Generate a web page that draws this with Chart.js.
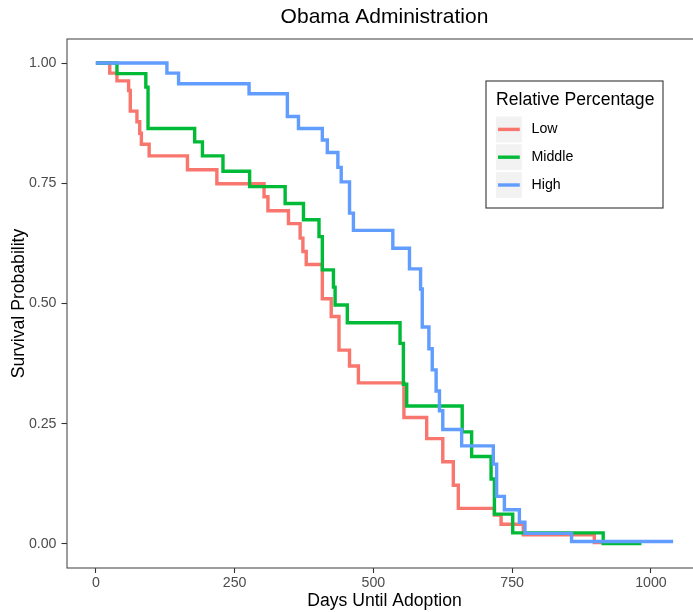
<!DOCTYPE html>
<html>
<head>
<meta charset="utf-8">
<title>Obama Administration</title>
<script src="https://cdn.jsdelivr.net/npm/chart.js@4/dist/chart.umd.min.js"></script>
<style>
  html, body { margin: 0; padding: 0; background: #ffffff; overflow: hidden; }
  #wrap { width: 693px; height: 612px; overflow: hidden; position: relative; }
  canvas { display: block; }
</style>
</head>
<body>
<div id="wrap"><canvas id="km" width="710" height="612"></canvas></div>
<script>
// Kaplan-Meier survival estimates by relative percentage group
const groupNames = ['Low', 'Middle', 'High'];
const groupColors = ['#F8766D', '#00BA38', '#619CFF'];

const lowDays = [0, 25, 38, 59, 62, 74, 79, 82, 96, 165, 218, 303, 310, 347, 368, 373, 379, 408, 424, 438, 457, 473, 555, 596, 625, 644, 653, 718, 730, 770, 898, 930];
const lowSurv = [1.000, 0.979, 0.963, 0.943, 0.900, 0.878, 0.854, 0.831, 0.807, 0.778, 0.749, 0.722, 0.693, 0.666, 0.636, 0.608, 0.581, 0.510, 0.473, 0.403, 0.370, 0.335, 0.263, 0.219, 0.171, 0.122, 0.074, 0.060, 0.041, 0.019, 0.003, 0.003];

const middleDays = [0, 38, 90, 94, 178, 192, 229, 277, 341, 374, 402, 408, 428, 431, 453, 548, 554, 560, 660, 677, 712, 718, 751, 914, 983];
const middleSurv = [1.000, 0.978, 0.950, 0.864, 0.836, 0.807, 0.775, 0.743, 0.708, 0.674, 0.639, 0.570, 0.534, 0.497, 0.460, 0.417, 0.332, 0.287, 0.233, 0.182, 0.135, 0.062, 0.023, 0.001, 0.001];

const highDays = [0, 128, 149, 276, 345, 365, 408, 417, 436, 442, 457, 464, 535, 565, 585, 588, 600, 606, 613, 619, 625, 659, 716, 722, 736, 763, 773, 857, 1040];
const highSurv = [1.000, 0.979, 0.957, 0.936, 0.889, 0.864, 0.840, 0.814, 0.783, 0.753, 0.688, 0.652, 0.615, 0.572, 0.530, 0.451, 0.406, 0.362, 0.318, 0.277, 0.238, 0.204, 0.166, 0.099, 0.071, 0.045, 0.022, 0.005, 0.005];

const xTicks = [0, 250, 500, 750, 1000];
const xTickLabels = ['0', '250', '500', '750', '1000'];
const yTicks = [0, 0.25, 0.5, 0.75, 1];
const yTickLabels = ['0.00', '0.25', '0.50', '0.75', '1.00'];

const FONT = "'Liberation Sans', Arial, Helvetica, sans-serif";

function toPoints(days, surv) {
  return days.map((d, i) => ({ x: d, y: surv[i] }));
}

const seriesDays = [lowDays, middleDays, highDays];
const seriesSurv = [lowSurv, middleSurv, highSurv];

const datasets = groupNames.map((name, i) => ({
  label: name,
  data: toPoints(seriesDays[i], seriesSurv[i]),
  borderColor: groupColors[i],
  backgroundColor: groupColors[i],
  borderWidth: 3.4,
  pointRadius: 0,
  pointHoverRadius: 0,
  stepped: 'before',
  fill: false,
  order: groupNames.length - 1 - i   // later groups drawn on top
}));

// Panel frame and a boxed legend drawn in the plot area
const panelLegend = {
  id: 'panelLegend',
  afterDraw(chart) {
    const { ctx, chartArea: a } = chart;
    ctx.save();
    ctx.strokeStyle = '#4d4d4d';
    ctx.lineWidth = 1.1;
    ctx.strokeRect(a.left, a.top, a.right - a.left, a.bottom - a.top);

    // legend box
    const bx = 486, by = 81, bw = 177, bh = 127;
    ctx.fillStyle = '#ffffff';
    ctx.fillRect(bx, by, bw, bh);
    ctx.strokeStyle = '#333333';
    ctx.lineWidth = 1.1;
    ctx.strokeRect(bx, by, bw, bh);

    ctx.fillStyle = '#000000';
    ctx.textAlign = 'left';
    ctx.textBaseline = 'middle';
    ctx.font = `17.6px ${FONT}`;
    ctx.fillText('Relative Percentage', 496, 100);

    const keyX = 496, keyY0 = 116.5, keyStep = 27.8, keySize = 25.8;
    chart.data.datasets.forEach((ds, i) => {
      const ky = keyY0 + i * keyStep;
      const cy = ky + keySize / 2;
      ctx.fillStyle = '#F2F2F2';
      ctx.fillRect(keyX, ky, keySize, keySize);
      ctx.strokeStyle = ds.borderColor;
      ctx.lineWidth = 3.4;
      ctx.beginPath();
      ctx.moveTo(keyX + 2, cy);
      ctx.lineTo(keyX + keySize - 2, cy);
      ctx.stroke();
      ctx.fillStyle = '#000000';
      ctx.font = `14.2px ${FONT}`;
      ctx.fillText(ds.label, 531.5, cy);
    });
    ctx.restore();
  }
};

new Chart(document.getElementById('km'), {
  type: 'line',
  data: { datasets },
  plugins: [panelLegend],
  options: {
    responsive: false,
    animation: false,
    devicePixelRatio: 1,
    layout: { padding: { top: 0, right: 8, bottom: 0, left: 0 } },
    plugins: {
      legend: { display: false },
      tooltip: { enabled: false },
      title: {
        display: true,
        text: 'Obama Administration',
        fullSize: false,
        color: '#000000',
        font: { family: FONT, size: 21, weight: 'normal', lineHeight: 1.2 },
        padding: { top: 5, bottom: 8.8 }
      }
    },
    scales: {
      x: {
        type: 'linear',
        position: 'bottom',
        min: -52,
        max: 1092,
        afterBuildTicks: (s) => { s.ticks = xTicks.map(v => ({ value: v })); },
        afterFit: (s) => { s.height = 44; },
        border: { display: false },
        grid: {
          display: true,
          drawOnChartArea: false,
          drawTicks: true,
          tickLength: 5,
          tickColor: '#333333',
          tickWidth: 1.1
        },
        ticks: {
          autoSkip: false,
          maxRotation: 0,
          padding: 2,
          color: '#4D4D4D',
          font: { family: FONT, size: 14.2 },
          callback: (v) => xTickLabels[xTicks.indexOf(v)]
        },
        title: {
          display: true,
          text: 'Days Until Adoption',
          color: '#000000',
          font: { family: FONT, size: 17.6 },
          padding: { top: 0, bottom: 0 }
        }
      },
      y: {
        type: 'linear',
        position: 'left',
        min: -0.05,
        max: 1.05,
        afterBuildTicks: (s) => { s.ticks = yTicks.map(v => ({ value: v })); },
        afterFit: (s) => { s.width = 67; },
        border: { display: false },
        grid: {
          display: true,
          drawOnChartArea: false,
          drawTicks: true,
          tickLength: 5.5,
          tickColor: '#333333',
          tickWidth: 1.1
        },
        ticks: {
          autoSkip: false,
          padding: 5,
          color: '#4D4D4D',
          font: { family: FONT, size: 14.2 },
          callback: (v) => yTickLabels[yTicks.indexOf(v)]
        },
        title: {
          display: true,
          text: 'Survival Probability',
          color: '#000000',
          font: { family: FONT, size: 17.6 },
          padding: { top: 8.5, bottom: 0 }
        }
      }
    }
  }
});
</script>
</body>
</html>
